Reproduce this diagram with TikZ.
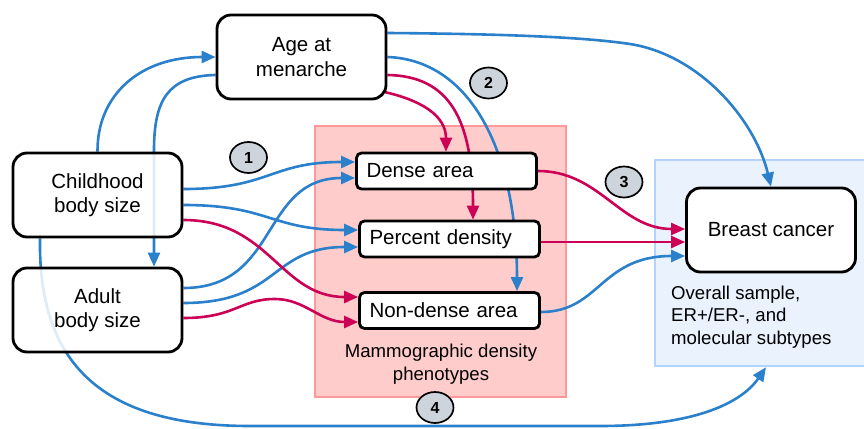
\documentclass[tikz,border=0pt]{standalone}
\usepackage{fontspec}
\setmainfont{Liberation Sans}
\usetikzlibrary{arrows.meta,shapes.geometric}
\definecolor{cblue}{HTML}{2B80CC}
\definecolor{cred}{HTML}{CC0055}
\definecolor{pinkfill}{HTML}{FFCCCC}
\definecolor{pinkline}{HTML}{FF9999}
\definecolor{bluefill}{HTML}{EAF2FE}
\definecolor{blueline}{HTML}{B3D4FA}
\definecolor{numfill}{HTML}{CDD4DC}
\pgfdeclarelayer{bg}
\pgfdeclarelayer{edges}
\pgfsetlayers{bg,edges,main}
\begin{document}
\begin{tikzpicture}[x=1pt,y=-1pt,
 bigbox/.style={draw=black, line width=2.8pt, rounded corners=14pt, fill=white, fill opacity=0.85, text opacity=1, minimum width=169pt, minimum height=84pt, inner sep=0pt, align=center, font=\fontsize{20.5}{24.5}\selectfont},
 phbox/.style={draw=black, line width=2.8pt, rounded corners=5pt, fill=white, minimum height=36pt, text width=160pt, inner xsep=10pt, inner ysep=0pt, align=left, font=\fontsize{20.5}{24.5}\selectfont},
 num/.style={ellipse, draw=black, line width=1.7pt, fill=numfill, minimum width=37pt, minimum height=31pt, inner sep=0pt, font=\fontsize{16}{16}\selectfont\bfseries},
 blu/.style={draw=cblue, line width=2.6pt, -{Triangle[length=14pt,width=12pt]}},
 rd/.style={draw=cred, line width=2.6pt, -{Triangle[length=14pt,width=12pt]}},
 lbl/.style={font=\fontsize{18.6}{22.5}\selectfont, inner sep=0pt}
]
\useasboundingbox (0,0) rectangle (864,428);
% groups
\begin{pgfonlayer}{bg}
\node[draw=pinkline, fill=pinkfill, line width=2.5pt, minimum width=251pt, minimum height=271pt, inner sep=0pt] (grpm) at (440.5,261.5) {};
\node[draw=blueline, fill=bluefill, line width=2.5pt, minimum width=211pt, minimum height=206pt, inner sep=0pt] (grp) at (760.5,263) {};
\end{pgfonlayer}
% nodes
\node[bigbox] (age) at (301.5,57) {Age at\\menarche};
\node[bigbox] (chb) at (97.5,195) {Childhood\\body size};
\node[bigbox] (adb) at (97.5,310) {Adult\\body size};
\node[bigbox, fill opacity=1] (bc) at (771,230) {Breast cancer};
\node[phbox] (dense) at (446.5,171) {Dense area};
\node[phbox] (pct) at (449.5,239) {Percent density};
\node[phbox] (nond) at (449.5,310.5) {Non-dense area};
\node[lbl, align=center] (mlab) at (441,364) {Mammographic density\\phenotypes};
\node[lbl, align=left, anchor=west] (olab) at (671,317) {Overall sample,\\ER+/ER-, and\\molecular subtypes};
\node[num] (c1) at (248.5,157.5) {1};
\node[num] (c2) at (488.5,83) {2};
\node[num] (c3) at (624,182) {3};
\node[num] (c4) at (435,407.5) {4};
% edges
\begin{pgfonlayer}{edges}
\draw[blu] (chb.north) .. controls (97,95) and (140,57) .. (age.west);
\draw[blu] ([yshift=-18pt]age.west) .. controls (168,76) and (154,100) .. (154,150) -- ([xshift=56.5pt]adb.north);
\draw[blu] ([yshift=6pt]chb.east) .. controls (270,189) and (270,162) .. ([yshift=9pt]dense.west);
\draw[blu] ([yshift=-10pt]chb.east) .. controls (270,205) and (270,230) .. ([yshift=9pt]pct.west);
\draw[blu] ([yshift=22pt]adb.east) .. controls (280,288) and (260,178) .. ([yshift=-7pt]dense.west);
\draw[blu] ([yshift=7pt]adb.east) .. controls (280,303) and (270,247) .. ([yshift=-8pt]pct.west);
\draw[rd] ([yshift=-25pt]chb.east) .. controls (270,220) and (280,297) .. ([yshift=13.5pt]nond.west);
\draw[rd] ([yshift=-8pt]adb.east) .. controls (235,318) and (240,299) .. (275,299) .. controls (305,299) and (320,322) .. ([yshift=-11.5pt]nond.west);
\draw[blu] ([yshift=24pt]age.east) .. controls (520,34) and (590,38) .. (630,44) .. controls (700,55) and (755,120) .. (bc.north);
\draw[blu] (age.east) .. controls (470,60) and (517,150) .. ([xshift=67.5pt]nond.north);
\draw[rd] ([xshift=-3pt,yshift=-35pt]age.east) .. controls (420,100) and (446,115) .. ([xshift=-0.5pt]dense.north);
\draw[rd] ([yshift=-18pt]age.east) .. controls (450,76) and (473,120) .. ([xshift=23.5pt]pct.north);
\draw[rd] (dense.east) .. controls (600,171) and (620,229) .. ([yshift=1pt]bc.west);
\draw[rd] ([yshift=-3pt]pct.east) -- ([yshift=-12pt]bc.west);
\draw[blu] ([yshift=-1.5pt]nond.east) .. controls (600,312) and (600,256) .. ([yshift=-26pt]bc.west);
\draw[blu] ([xshift=-57.5pt]chb.south) .. controls (38,362) and (100,426) .. (250,426) -- (600,426) .. controls (690,426) and (740,405) .. ([xshift=5.5pt]grp.south);
\end{pgfonlayer}
\end{tikzpicture}
\end{document}
